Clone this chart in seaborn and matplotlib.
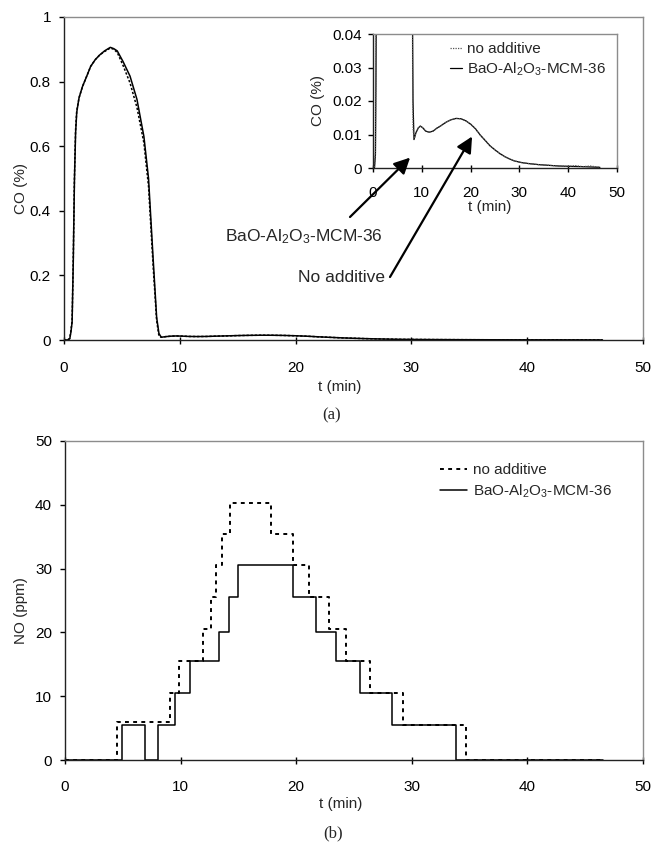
import matplotlib
matplotlib.use("Agg")
import matplotlib.pyplot as plt
import seaborn as sns
import pandas as pd
from matplotlib.ticker import FuncFormatter, MultipleLocator

sns.set_style("white")
plt.rcParams['font.family'] = ['Liberation Sans', 'DejaVu Sans']
plt.rcParams['mathtext.fontset'] = 'custom'
plt.rcParams['mathtext.rm'] = 'Liberation Sans'
plt.rcParams['mathtext.default'] = 'regular'

# ---------------- data ----------------
# CO (%) vs t (min): peak part then the small tail
co_t_none = [0, 0.3, 0.5, 0.6, 0.7, 0.8, 0.9, 1.0, 1.1, 1.3, 1.6, 2.0, 2.3, 2.7, 3.1, 3.5, 4.0,
             4.3, 4.6, 5.1, 5.7, 6.3, 6.9, 7.3, 7.7, 8.0, 8.2, 8.4, 8.8, 9.3, 9.7, 10.2, 10.8,
             11.5, 12.3, 13.0, 14.0, 15.0, 16.0, 17.0, 18.0, 19.0, 20.0, 21.0, 22.0, 23.0,
             24.0, 25.0, 26.0, 27.0, 28.0, 29.0, 30.5, 32.0, 34.0, 36.0, 38.0, 40.0, 41.5,
             43.0, 44.5, 46.5]
co_none = [0, 0, 0.005, 0.03, 0.06, 0.25, 0.50, 0.65, 0.71, 0.75, 0.785, 0.82, 0.847, 0.868,
           0.883, 0.893, 0.904, 0.90, 0.89, 0.85, 0.796, 0.72, 0.61, 0.475, 0.227, 0.06, 0.012,
           0.0085, 0.0105, 0.012, 0.0125, 0.012, 0.011, 0.0107, 0.011, 0.0118, 0.0127, 0.0137,
           0.0144, 0.0148, 0.0147, 0.0141, 0.0131, 0.0117, 0.0098, 0.0082, 0.0066, 0.0054,
           0.0043, 0.0034, 0.0027, 0.0021, 0.0016, 0.0013, 0.001, 0.0008, 0.0006, 0.0005,
           0.0007, 0.0004, 0.0006, 0.0002]
co_t_bao = [0, 0.3, 0.5, 0.6, 0.7, 0.8, 0.9, 1.0, 1.1, 1.3, 1.6, 2.0, 2.3, 2.7, 3.1, 3.5, 4.0,
            4.3, 4.6, 5.1, 5.7, 6.3, 6.9, 7.3, 7.7, 8.0, 8.2, 8.4, 8.8, 9.3, 9.7, 10.2, 10.8,
            11.5, 12.3, 13.0, 14.0, 15.0, 16.0, 17.0, 18.0, 19.0, 20.0, 21.0, 22.0, 23.0,
            24.0, 25.0, 26.0, 27.0, 28.0, 29.0, 30.5, 32.0, 34.0, 36.0, 38.0, 40.0, 43.0, 46.5]
co_bao = [0, 0, 0.004, 0.025, 0.055, 0.24, 0.49, 0.64, 0.705, 0.75, 0.785, 0.82, 0.847, 0.868,
          0.883, 0.895, 0.906, 0.902, 0.895, 0.862, 0.817, 0.745, 0.63, 0.50, 0.25, 0.07, 0.02,
          0.0085, 0.0105, 0.012, 0.0125, 0.012, 0.011, 0.0107, 0.011, 0.0118, 0.0127, 0.0137,
          0.0144, 0.0148, 0.0147, 0.0141, 0.0131, 0.0117, 0.0098, 0.0082, 0.0066, 0.0054,
          0.0043, 0.0034, 0.0027, 0.0021, 0.0016, 0.0013, 0.001, 0.0008, 0.0006, 0.0005,
          0.0004, 0.0002]

# NO (ppm) step profiles: time of each change and the level after it
no_t_none = [0, 4.48, 9.07, 9.9, 11.9, 12.6, 13.1, 13.6, 14.3, 17.8, 19.7, 21.1, 22.8, 24.3,
             26.4, 29.2, 34.7, 46.5]
no_none = [0, 5.9, 10.5, 15.5, 20.5, 25.5, 30.5, 35.5, 40.3, 35.5, 30.5, 25.5, 20.5, 15.5,
           10.5, 5.5, 0, 0]
no_t_bao = [0, 4.94, 6.95, 8.08, 9.48, 10.8, 13.3, 14.2, 15.0, 19.74, 21.7, 23.45, 25.5, 28.3,
            33.8, 46.5]
no_bao = [0, 5.5, 0, 5.5, 10.5, 15.5, 20.0, 25.5, 30.5, 25.5, 20.0, 15.5, 10.5, 5.5, 0, 0]

label_none = "no additive"
label_bao = "BaO-Al$_2$O$_3$-MCM-36"

co_df_none = pd.DataFrame({"t": co_t_none, "CO": co_none})
co_df_bao = pd.DataFrame({"t": co_t_bao, "CO": co_bao})
no_df_none = pd.DataFrame({"t": no_t_none, "NO": no_none})
no_df_bao = pd.DataFrame({"t": no_t_bao, "NO": no_bao})

# ---------------- figure ----------------
W, H = 653, 844
PX = 72 / 100  # points per pixel at dpi 100
fig = plt.figure(figsize=(W / 100, H / 100), dpi=100)


def rect(l, t, r, b):
    return [l / W, 1 - b / H, (r - l) / W, (b - t) / H]


gray = '#8c8c8c'


def style_axes(ax, fs, xgap_px, ygap_px, ticklen_px=5):
    for s in ['top', 'right']:
        ax.spines[s].set_color(gray)
        ax.spines[s].set_linewidth(1.0)
    for s in ['left', 'bottom']:
        ax.spines[s].set_color('#222222')
        ax.spines[s].set_linewidth(1.0)
    xl = 7 * PX
    ax.tick_params(axis='x', direction='inout', length=xl, width=1, labelsize=fs,
                   bottom=True, pad=xgap_px * PX - xl / 2, colors='black')
    ax.tick_params(axis='y', direction='out', length=ticklen_px * PX, width=1, labelsize=fs,
                   left=True, pad=ygap_px * PX, colors='black')
    ax.grid(False)


fmt = FuncFormatter(lambda v, p: '%g' % round(v, 4))

# ---- panel (a) ----
L1, T1, R1, B1 = 64, 17, 643, 340
ax1 = fig.add_axes(rect(L1, T1, R1, B1))
sns.lineplot(data=co_df_bao, x="t", y="CO", ax=ax1, color='black', lw=1.1, sort=False)
sns.lineplot(data=co_df_none, x="t", y="CO", ax=ax1, color='black', lw=1.1, ls=(0, (1.5, 1.2)),
             sort=False)
ax1.set_xlim(0, 50)
ax1.set_ylim(0, 1)
ax1.xaxis.set_major_locator(MultipleLocator(10))
ax1.yaxis.set_major_locator(MultipleLocator(0.2))
ax1.yaxis.set_major_formatter(fmt)
style_axes(ax1, 11, xgap_px=21, ygap_px=8)
ax1.set_xlabel("t (min)", fontsize=11)
ax1.set_ylabel("CO (%)", fontsize=11)
ax1.xaxis.set_label_coords((340 - L1) / (R1 - L1), (B1 - 380) / (B1 - T1))
ax1.yaxis.set_label_coords((28 - L1) / (R1 - L1), 0.47)

# inset
L2, T2, R2, B2 = 373, 34, 617, 168
ax2 = fig.add_axes(rect(L2, T2, R2, B2))
sns.lineplot(data=co_df_bao, x="t", y="CO", ax=ax2, color='black', lw=0.9, sort=False,
             label=label_bao)
sns.lineplot(data=co_df_none, x="t", y="CO", ax=ax2, color='#555555', lw=0.9,
             ls=(0, (1, 1)), sort=False, label=label_none)
ax2.set_xlim(0, 50)
ax2.set_ylim(0, 0.04)
ax2.xaxis.set_major_locator(MultipleLocator(10))
ax2.yaxis.set_major_locator(MultipleLocator(0.01))
ax2.yaxis.set_major_formatter(fmt)
style_axes(ax2, 11, xgap_px=18, ygap_px=6)
ax2.set_xlabel("t (min)", fontsize=11)
ax2.set_ylabel("CO (%)", fontsize=11)
ax2.xaxis.set_label_coords((490 - L2) / (R2 - L2), (B2 - 200) / (B2 - T2))
ax2.yaxis.set_label_coords((325 - L2) / (R2 - L2), 0.5)
h, l = ax2.get_legend_handles_labels()
ax2.legend([h[1], h[0]], [l[1], l[0]], loc='upper left',
           bbox_to_anchor=((450 - L2) / (R2 - L2), (B2 - 42) / (B2 - T2)),
           frameon=False, fontsize=11, handlelength=0.8, handletextpad=0.3,
           labelspacing=0.3, borderaxespad=0, borderpad=0)

# arrows + texts
arrow_kw = dict(arrowstyle='-|>', mutation_scale=24, lw=1.6, color='black',
                shrinkA=0, shrinkB=0)
ax2.annotate("", xy=(7.6, 0.0031), xycoords='data',
             xytext=(350, H - 217), textcoords='figure pixels',
             arrowprops=arrow_kw, annotation_clip=False)
ax2.annotate("", xy=(20.3, 0.0094), xycoords='data',
             xytext=(390, H - 277), textcoords='figure pixels',
             arrowprops=arrow_kw, annotation_clip=False)
fig.text(383 / W, 1 - 237 / H, "BaO-Al$_2$O$_3$-MCM-36", ha='right', va='center',
         fontsize=12.5)
fig.text(385 / W, 1 - 277 / H, "No additive", ha='right', va='center', fontsize=12.5)
fig.text(332 / W, 1 - 415 / H, "(a)", ha='center', va='center', fontsize=12,
         family=['Liberation Serif', 'DejaVu Serif'])

# ---- panel (b) ----
L3, T3, R3, B3 = 65, 441, 643, 760
ax3 = fig.add_axes(rect(L3, T3, R3, B3))
sns.lineplot(data=no_df_none, x="t", y="NO", ax=ax3, color='black', lw=1.4,
             ls=(0, (2, 2.2)), drawstyle='steps-post', label=label_none)
sns.lineplot(data=no_df_bao, x="t", y="NO", ax=ax3, color='black', lw=1.1,
             drawstyle='steps-post', label=label_bao)
ax3.set_xlim(0, 50)
ax3.set_ylim(0, 50)
ax3.xaxis.set_major_locator(MultipleLocator(10))
ax3.yaxis.set_major_locator(MultipleLocator(10))
style_axes(ax3, 11, xgap_px=20, ygap_px=8)
ax3.set_xlabel("t (min)", fontsize=11)
ax3.set_ylabel("NO (ppm)", fontsize=11)
ax3.xaxis.set_label_coords((341 - L3) / (R3 - L3), (B3 - 797) / (B3 - T3))
ax3.yaxis.set_label_coords((28 - L3) / (R3 - L3), 0.47)
ax3.legend(loc='upper left',
           bbox_to_anchor=((440 - L3) / (R3 - L3), (B3 - 463) / (B3 - T3)),
           frameon=False, fontsize=11, handlelength=1.75, handletextpad=0.4,
           labelspacing=0.35, borderaxespad=0, borderpad=0)
fig.text(333 / W, 1 - 833 / H, "(b)", ha='center', va='center', fontsize=12,
         family=['Liberation Serif', 'DejaVu Serif'])

fig.savefig("out.png", dpi=100, facecolor='white')
